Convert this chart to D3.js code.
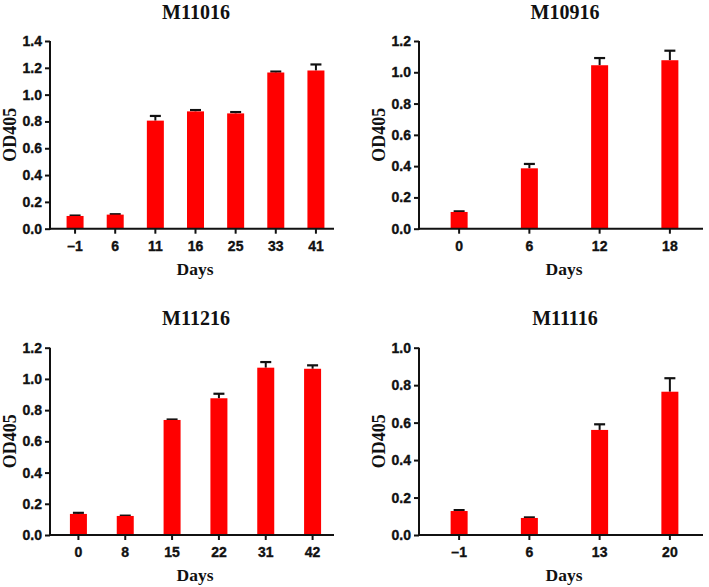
<!DOCTYPE html>
<html><head><meta charset="utf-8">
<script src="https://cdn.jsdelivr.net/npm/d3@7"></script>
<style>body{margin:0;background:#fff}svg{display:block}</style>
</head><body>
<script>
// ---- data ----
const titles = ["M11016", "M10916", "M11216", "M11116"];
const days1 = ["–1", "6", "11", "16", "25", "33", "41"];
const means1 = [0.095, 0.105, 0.806, 0.875, 0.860, 1.165, 1.180];
const errs1 = [0.003, 0.003, 0.035, 0.010, 0.010, 0.007, 0.045];
const days2 = ["0", "6", "12", "18"];
const means2 = [0.107, 0.386, 1.045, 1.077];
const errs2 = [0.004, 0.028, 0.046, 0.061];
const days3 = ["0", "8", "15", "22", "31", "42"];
const means3 = [0.135, 0.122, 0.737, 0.876, 1.072, 1.065];
const errs3 = [0.007, 0.002, 0.003, 0.029, 0.036, 0.022];
const days4 = ["–1", "6", "13", "20"];
const means4 = [0.128, 0.091, 0.561, 0.765];
const errs4 = [0.005, 0.003, 0.030, 0.072];
const yMax = [1.4, 1.2, 1.2, 1.0];
const yTicks1 = [0, 0.2, 0.4, 0.6, 0.8, 1.0, 1.2, 1.4];
const yTicks2 = [0, 0.2, 0.4, 0.6, 0.8, 1.0, 1.2];
const yTicks3 = [0, 0.2, 0.4, 0.6, 0.8, 1.0, 1.2];
const yTicks4 = [0, 0.2, 0.4, 0.6, 0.8, 1.0];

const W = 709, H = 587;
const svg = d3.select("body").append("svg").attr("width", W).attr("height", H);

const panels = [
  {days: days1, means: means1, errs: errs1, ticks: yTicks1, ax: 50, top: 41, base: 228.7, off: 0},
  {days: days2, means: means2, errs: errs2, ticks: yTicks2, ax: 419, top: 41, base: 228.7, off: 0},
  {days: days3, means: means3, errs: errs3, ticks: yTicks3, ax: 50, top: 347.7, base: 535, off: 306},
  {days: days4, means: means4, errs: errs4, ticks: yTicks4, ax: 419, top: 347.7, base: 535, off: 306}
];

const sansF = "Arial, 'Liberation Sans', sans-serif";
const serifF = "'Times New Roman', 'Liberation Serif', serif";
const barW = 17, capW = 11;

panels.forEach((p, i) => {
  const g = svg.append("g");
  const axLen = 284;
  const x = d3.scaleBand().domain(p.days).range([p.ax + 5, p.ax + 286]).padding(0);
  const y = d3.scaleLinear().domain([0, yMax[i]]).range([p.base, p.top]);
  const data = p.days.map((d, k) => ({d, m: p.means[k], e: p.errs[k]}));
  const cx = d => x(d) + x.bandwidth() / 2;

  // error bars (drawn under bars)
  g.selectAll("line.err").data(data).enter().append("line")
    .attr("x1", d => cx(d.d)).attr("x2", d => cx(d.d))
    .attr("y1", d => y(d.m)).attr("y2", d => y(d.m + d.e))
    .attr("stroke", "#111").attr("stroke-width", 2);
  g.selectAll("line.cap").data(data).enter().append("line")
    .attr("x1", d => cx(d.d) - capW / 2).attr("x2", d => cx(d.d) + capW / 2)
    .attr("y1", d => y(d.m + d.e)).attr("y2", d => y(d.m + d.e))
    .attr("stroke", "#111").attr("stroke-width", 2.2);

  // bars
  g.selectAll("rect.bar").data(data).enter().append("rect")
    .attr("x", d => cx(d.d) - barW / 2).attr("width", barW)
    .attr("y", d => y(d.m)).attr("height", d => y(0) - y(d.m))
    .attr("fill", "#ff0000");

  const styleTick = sel => sel.style("font-family", sansF).style("font-weight", "700").style("font-size", "14px")
    .attr("fill", "#111").attr("stroke", "#111").attr("stroke-width", 0.35);

  // y axis
  const ya = g.append("g").attr("transform", `translate(${p.ax},0)`)
    .call(d3.axisLeft(y).tickValues(p.ticks).tickFormat(d3.format(".1f")).tickSize(5).tickPadding(3).tickSizeOuter(0));
  ya.select(".domain").attr("stroke", "#111").attr("stroke-width", 2).attr("d", `M0,${p.top}V${p.base + 1}`);
  ya.selectAll(".tick line").attr("stroke", "#111").attr("stroke-width", 2);
  styleTick(ya.selectAll(".tick text"));

  // x axis
  const xa = g.append("g").attr("transform", `translate(0,${p.base})`)
    .call(d3.axisBottom(x).tickSize(5).tickPadding(7).tickSizeOuter(0));
  xa.select(".domain").attr("stroke", "#111").attr("stroke-width", 2).attr("d", `M${p.ax - 1},0H${p.ax + axLen}`);
  xa.selectAll(".tick line").attr("stroke", "#111").attr("stroke-width", 2);
  styleTick(xa.selectAll(".tick text"));

  const mid = p.ax + 146;
  // title
  g.append("text").attr("x", mid).attr("y", 18.5 + p.off).attr("text-anchor", "middle")
    .style("font-family", serifF).style("font-weight", "700").style("font-size", "20px").attr("fill", "#111")
    .text(titles[i]);
  // x label
  g.append("text").attr("x", mid - 1).attr("y", 275 + p.off).attr("text-anchor", "middle")
    .style("font-family", serifF).style("font-weight", "700").style("font-size", "17.5px").attr("fill", "#111")
    .text("Days");
  // y label
  const lx = p.ax - 34, ly = (p.top + p.base) / 2;
  g.append("text").attr("transform", `translate(${lx},${ly}) rotate(-90)`).attr("text-anchor", "middle")
    .style("font-family", serifF).style("font-weight", "700").style("font-size", "18px").attr("fill", "#111")
    .text("OD405");
});
</script>
</body></html>
